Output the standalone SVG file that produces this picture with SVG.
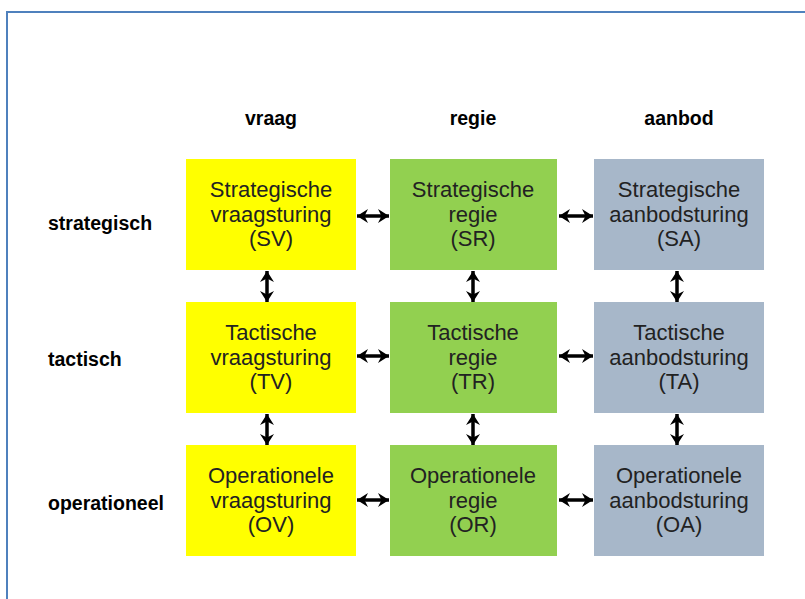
<svg xmlns="http://www.w3.org/2000/svg" width="805" height="599" viewBox="0 0 805 599">
<style>
.hdr{font-family:"Liberation Sans",Arial,sans-serif;font-weight:bold;font-size:19.5px;fill:#000}
.t{font-family:"Liberation Sans",Arial,sans-serif;font-size:22px;fill:#222;text-anchor:middle}
.y{fill:#FFFF00}.g{fill:#92D050}.b{fill:#A7B7C9}
.c{stroke:#000;stroke-width:3.5;fill:none;marker-start:url(#ah);marker-end:url(#ah)}
</style>
<defs>
<marker id="ah" viewBox="0 0 11 14" refX="11" refY="7" markerWidth="11" markerHeight="14" orient="auto-start-reverse" markerUnits="userSpaceOnUse">
<path d="M0,0 L11,7 L0,14 L3.5,7 z" fill="#000"/>
</marker>
</defs>
<rect x="0" y="0" width="805" height="599" fill="#fff"/>
<path d="M7,610 V12 H815" fill="none" stroke="#4F81BD" stroke-width="2"/>
<g id="headers">
<text class="hdr" x="271" y="125" text-anchor="middle">vraag</text>
<text class="hdr" x="473" y="125" text-anchor="middle">regie</text>
<text class="hdr" x="679" y="125" text-anchor="middle">aanbod</text>
<text class="hdr" x="48" y="230">strategisch</text>
<text class="hdr" x="48" y="366">tactisch</text>
<text class="hdr" x="48" y="510">operationeel</text>
</g>
<g id="SV"><rect class="y" x="186" y="159" width="170" height="111"/><text class="t" x="271" y="197">Strategische</text><text class="t" x="271" y="221.5">vraagsturing</text><text class="t" x="271" y="246">(SV)</text></g>
<g id="SR"><rect class="g" x="390" y="159" width="167" height="111"/><text class="t" x="473" y="197">Strategische</text><text class="t" x="473" y="221.5">regie</text><text class="t" x="473" y="246">(SR)</text></g>
<g id="SA"><rect class="b" x="594" y="159" width="170" height="111"/><text class="t" x="679" y="197">Strategische</text><text class="t" x="679" y="221.5">aanbodsturing</text><text class="t" x="679" y="246">(SA)</text></g>
<g id="TV"><rect class="y" x="186" y="302" width="170" height="111"/><text class="t" x="271" y="340">Tactische</text><text class="t" x="271" y="364.5">vraagsturing</text><text class="t" x="271" y="389">(TV)</text></g>
<g id="TR"><rect class="g" x="390" y="302" width="167" height="111"/><text class="t" x="473" y="340">Tactische</text><text class="t" x="473" y="364.5">regie</text><text class="t" x="473" y="389">(TR)</text></g>
<g id="TA"><rect class="b" x="594" y="302" width="170" height="111"/><text class="t" x="679" y="340">Tactische</text><text class="t" x="679" y="364.5">aanbodsturing</text><text class="t" x="679" y="389">(TA)</text></g>
<g id="OV"><rect class="y" x="186" y="445" width="170" height="111"/><text class="t" x="271" y="483">Operationele</text><text class="t" x="271" y="507.5">vraagsturing</text><text class="t" x="271" y="532">(OV)</text></g>
<g id="OR"><rect class="g" x="390" y="445" width="167" height="111"/><text class="t" x="473" y="483">Operationele</text><text class="t" x="473" y="507.5">regie</text><text class="t" x="473" y="532">(OR)</text></g>
<g id="OA"><rect class="b" x="594" y="445" width="170" height="111"/><text class="t" x="679" y="483">Operationele</text><text class="t" x="679" y="507.5">aanbodsturing</text><text class="t" x="679" y="532">(OA)</text></g>
<g id="connectors">
<path class="c" d="M357,216 H389"/>
<path class="c" d="M559,216 H593"/>
<path class="c" d="M357,356 H389"/>
<path class="c" d="M559,356 H593"/>
<path class="c" d="M357,500 H389"/>
<path class="c" d="M559,500 H593"/>
<path class="c" d="M267,271 V302"/>
<path class="c" d="M473,271 V302"/>
<path class="c" d="M677,271 V302"/>
<path class="c" d="M267,414 V445"/>
<path class="c" d="M473,414 V445"/>
<path class="c" d="M677,414 V445"/>
</g>
</svg>
